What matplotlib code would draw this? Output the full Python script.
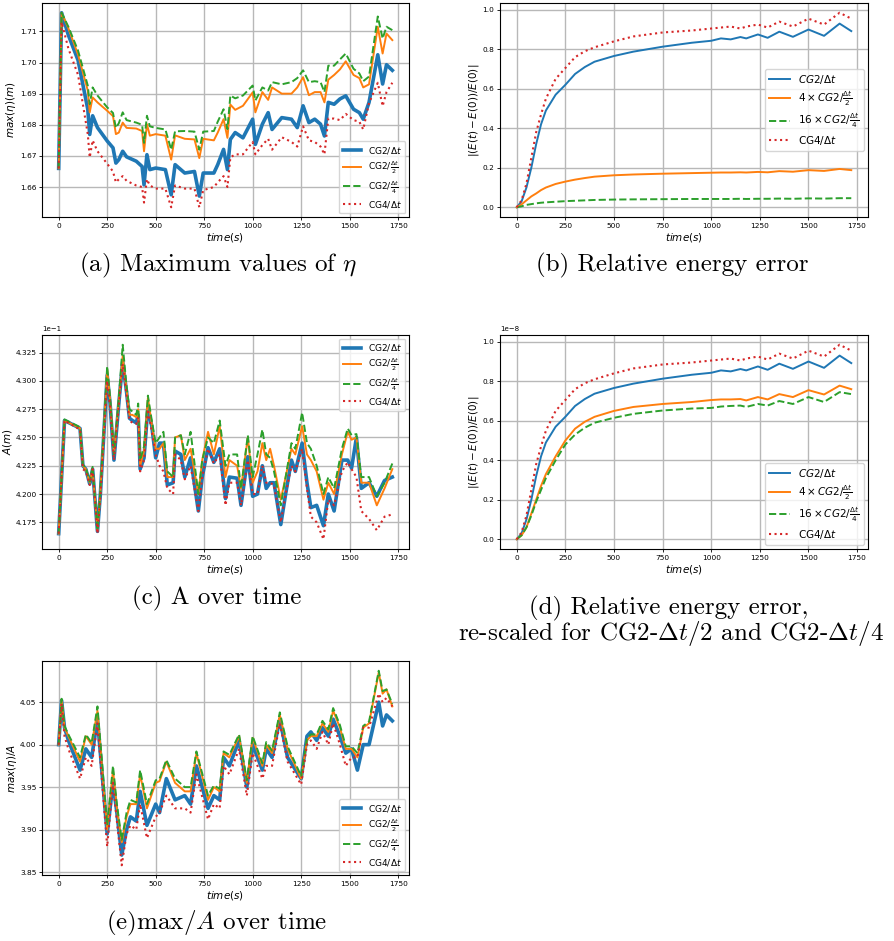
import numpy as np
import matplotlib
matplotlib.use("Agg")
import matplotlib.pyplot as plt

# ---- (a) maximum of eta over time ----
t_max = [0, 15, 50, 100, 150, 160, 175, 200, 250, 280, 295, 310, 330, 350, 400, 430, 440, 455, 470, 500,
         550, 580, 600, 650, 700, 725, 745, 800, 820, 850, 870, 885, 910, 950, 1000, 1014, 1050, 1080, 1100,
         1150, 1200, 1230, 1260, 1290, 1320, 1350, 1370, 1390, 1420, 1450, 1480, 1520, 1550, 1570, 1600,
         1645, 1670, 1690, 1720]
max_cg2 = [1.666, 1.716, 1.7088, 1.7007, 1.6850, 1.6769, 1.6829, 1.6791, 1.6748, 1.6726, 1.6677, 1.6688,
           1.6715, 1.6697, 1.6683, 1.6666, 1.6607, 1.6704, 1.6656, 1.6661, 1.6656, 1.6575, 1.6672, 1.6645,
           1.6650, 1.6571, 1.6645, 1.6645, 1.6672, 1.6721, 1.6656, 1.6753, 1.6775, 1.6758, 1.6818, 1.6737,
           1.6802, 1.6839, 1.6785, 1.6823, 1.6818, 1.6791, 1.6861, 1.6807, 1.6818, 1.6802, 1.6764, 1.6872,
           1.6866, 1.6883, 1.6893, 1.6850, 1.6839, 1.6818, 1.6872, 1.7025, 1.6931, 1.6993, 1.6975]
max_cg2_dt2 = [1.666, 1.716, 1.711, 1.7025, 1.691, 1.684, 1.6888, 1.6872, 1.6845, 1.6828, 1.677, 1.6775,
               1.6807, 1.679, 1.6788, 1.678, 1.6715, 1.6802, 1.6765, 1.677, 1.6765, 1.6688, 1.6766, 1.6755,
               1.6753, 1.6693, 1.6755, 1.675, 1.6775, 1.6818, 1.6758, 1.6865, 1.6848, 1.6861, 1.6904, 1.684,
               1.6905, 1.688, 1.692, 1.690, 1.690, 1.692, 1.6953, 1.6895, 1.6905, 1.6905, 1.6872, 1.6945,
               1.696, 1.6978, 1.7004, 1.696, 1.695, 1.692, 1.693, 1.7115, 1.7029, 1.7093, 1.7072]
max_cg2_dt4 = [1.666, 1.716, 1.7115, 1.7038, 1.6926, 1.6866, 1.692, 1.6894, 1.6856, 1.6838, 1.679, 1.6805,
               1.684, 1.6815, 1.6807, 1.680, 1.6742, 1.6829, 1.6795, 1.679, 1.6785, 1.672, 1.6779, 1.678,
               1.6778, 1.672, 1.6778, 1.678, 1.681, 1.685, 1.6786, 1.6894, 1.6885, 1.6894, 1.6926, 1.6878,
               1.692, 1.691, 1.6937, 1.693, 1.6937, 1.695, 1.6975, 1.6937, 1.694, 1.6937, 1.6905, 1.699,
               1.699, 1.701, 1.7029, 1.698, 1.6965, 1.694, 1.6955, 1.7148, 1.7077, 1.7115, 1.7104]
max_cg4 = [1.666, 1.713, 1.7045, 1.696, 1.677, 1.6695, 1.675, 1.6715, 1.6675, 1.665, 1.6615, 1.6625,
           1.6635, 1.662, 1.6605, 1.660, 1.655, 1.6625, 1.6605, 1.6595, 1.6595, 1.6535, 1.6605, 1.6595,
           1.6595, 1.6535, 1.659, 1.660, 1.6615, 1.6635, 1.660, 1.6695, 1.6705, 1.6705, 1.6745, 1.6705,
           1.6735, 1.6755, 1.672, 1.676, 1.6745, 1.673, 1.6795, 1.675, 1.6745, 1.673, 1.6705, 1.682,
           1.682, 1.6815, 1.6835, 1.6815, 1.681, 1.6785, 1.687, 1.6935, 1.686, 1.6905, 1.6935]

# ---- (b)/(d) relative energy error, in units of 1e-8 ----
t_err = [0, 25, 50, 75, 100, 125, 150, 200, 250, 300, 350, 400, 500, 600, 750, 900, 1000, 1050, 1100,
         1150, 1180, 1240, 1290, 1350, 1420, 1500, 1580, 1660, 1720]
err_cg2 = [0, 0.03, 0.1, 0.2, 0.32, 0.42, 0.49, 0.57, 0.62, 0.675, 0.71, 0.737, 0.766, 0.788, 0.813,
           0.833, 0.843, 0.855, 0.85, 0.862, 0.855, 0.875, 0.858, 0.889, 0.863, 0.9, 0.868, 0.93, 0.892]
err_cg4 = [0, 0.035, 0.12, 0.25, 0.38, 0.47, 0.55, 0.65, 0.705, 0.76, 0.79, 0.81, 0.84, 0.865, 0.885,
           0.895, 0.905, 0.91, 0.915, 0.905, 0.915, 0.925, 0.91, 0.94, 0.915, 0.955, 0.925, 0.985, 0.955]
err_cg2_dt2 = [0, 0.015, 0.035, 0.055, 0.07, 0.087, 0.1, 0.118, 0.13, 0.14, 0.148, 0.155, 0.162, 0.166,
               0.17, 0.173, 0.175, 0.176, 0.176, 0.177, 0.176, 0.179, 0.177, 0.183, 0.18, 0.188, 0.184,
               0.194, 0.188]
err_cg2_dt4 = [0, 0.005, 0.012, 0.016, 0.02, 0.023, 0.025, 0.028, 0.031, 0.033, 0.035, 0.037, 0.039, 0.04,
               0.041, 0.042, 0.042, 0.042, 0.042, 0.043, 0.042, 0.043, 0.043, 0.044, 0.043, 0.045, 0.044,
               0.046, 0.046]
scaled_cg2_dt2 = [0, 0.02, 0.06, 0.13, 0.2, 0.27, 0.33, 0.42, 0.5, 0.56, 0.595, 0.62, 0.65, 0.67, 0.685,
                  0.695, 0.705, 0.708, 0.708, 0.71, 0.703, 0.72, 0.708, 0.735, 0.72, 0.755, 0.733, 0.778,
                  0.76]
scaled_cg2_dt4 = [0, 0.02, 0.06, 0.12, 0.19, 0.25, 0.31, 0.40, 0.48, 0.53, 0.565, 0.59, 0.615, 0.635,
                  0.652, 0.662, 0.665, 0.672, 0.675, 0.677, 0.67, 0.685, 0.677, 0.70, 0.685, 0.72, 0.695,
                  0.745, 0.735]
ERR_UNIT = 1e-8

# ---- (c) amplitude A (m) ----
t_amp = [0, 30, 100, 110, 125, 140, 160, 175, 200, 215, 250, 265, 285, 310, 330, 350, 365, 380, 400, 410,
         420, 440, 460, 480, 500, 520, 540, 560, 590, 600, 630, 650, 680, 720, 740, 770, 800, 830, 860,
         880, 920, 940, 975, 1000, 1025, 1050, 1070, 1090, 1110, 1145, 1170, 1200, 1220, 1255, 1280, 1300,
         1330, 1365, 1390, 1420, 1460, 1490, 1510, 1535, 1560, 1600, 1640, 1680, 1720]
amp_cg2 = [0.4165, 0.4265, 0.4259, 0.4258, 0.4225, 0.4222, 0.4209, 0.4222, 0.4167, 0.4200, 0.4305, 0.4280,
           0.4230, 0.4280, 0.4317, 0.4290, 0.4267, 0.4265, 0.4263, 0.4270, 0.4222, 0.4232, 0.4277, 0.4260,
           0.4232, 0.4245, 0.4245, 0.4208, 0.4210, 0.4238, 0.4235, 0.4215, 0.4232, 0.4185, 0.4215, 0.4241,
           0.4228, 0.4240, 0.4196, 0.4215, 0.4214, 0.4190, 0.4233, 0.4198, 0.4200, 0.4225, 0.4205, 0.4210,
           0.4210, 0.4173, 0.4200, 0.4230, 0.4220, 0.4245, 0.4210, 0.4188, 0.4190, 0.4172, 0.4200, 0.4185,
           0.4230, 0.4230, 0.4223, 0.4250, 0.4205, 0.4210, 0.4198, 0.4212, 0.4215]
amp_cg2_dt2 = [0.4165, 0.4265, 0.4259, 0.4258, 0.4225, 0.4222, 0.4210, 0.4222, 0.4168, 0.4202, 0.4310,
               0.4283, 0.4235, 0.4283, 0.4322, 0.4292, 0.4270, 0.4270, 0.4268, 0.4275, 0.4225, 0.4238,
               0.4285, 0.4262, 0.4240, 0.4240, 0.4245, 0.4215, 0.4215, 0.4250, 0.4252, 0.4230, 0.4240,
               0.4200, 0.4230, 0.4255, 0.4235, 0.4260, 0.4215, 0.4230, 0.4225, 0.4205, 0.4250, 0.4210,
               0.4220, 0.4245, 0.4230, 0.4240, 0.4225, 0.4195, 0.4215, 0.4240, 0.4235, 0.4260, 0.4235,
               0.4230, 0.4220, 0.4195, 0.4210, 0.4200, 0.4235, 0.4255, 0.4248, 0.4250, 0.4210, 0.4210,
               0.4190, 0.4205, 0.4222]
amp_cg2_dt4 = [0.4165, 0.4266, 0.4260, 0.4259, 0.4226, 0.4223, 0.4211, 0.4224, 0.4168, 0.4203, 0.4313,
               0.4285, 0.4235, 0.4285, 0.4332, 0.4295, 0.4275, 0.4273, 0.4270, 0.4280, 0.4230, 0.4242,
               0.4287, 0.4265, 0.4245, 0.4250, 0.4255, 0.4220, 0.4215, 0.4250, 0.4252, 0.4235, 0.4255,
               0.4200, 0.4230, 0.4250, 0.4245, 0.4265, 0.4225, 0.4235, 0.4235, 0.4205, 0.4252, 0.4215,
               0.4235, 0.4257, 0.4235, 0.4232, 0.4220, 0.4190, 0.4215, 0.4245, 0.4240, 0.4272, 0.4245,
               0.4240, 0.4225, 0.4200, 0.4215, 0.4205, 0.4240, 0.4258, 0.4252, 0.4253, 0.4215, 0.4215,
               0.4198, 0.4210, 0.4227]
amp_cg4 = [0.4165, 0.4265, 0.4258, 0.4257, 0.4222, 0.4220, 0.4208, 0.4222, 0.4165, 0.4198, 0.4300, 0.4277,
           0.4230, 0.4278, 0.4315, 0.4287, 0.4265, 0.4263, 0.4262, 0.4268, 0.4220, 0.4230, 0.4275, 0.4255,
           0.4235, 0.4225, 0.4220, 0.4205, 0.4200, 0.4235, 0.4230, 0.4213, 0.4225, 0.4185, 0.4215, 0.4240,
           0.4227, 0.4235, 0.4190, 0.4210, 0.4210, 0.4190, 0.4230, 0.4200, 0.4200, 0.4225, 0.4210, 0.4210,
           0.4208, 0.4175, 0.4200, 0.4225, 0.4220, 0.4240, 0.4205, 0.4180, 0.4175, 0.4160, 0.4195, 0.4190,
           0.4220, 0.4228, 0.4222, 0.4215, 0.4185, 0.4178, 0.4168, 0.4180, 0.4182]

# ---- (e) max(eta)/A ----
t_ratio = [0, 15, 30, 50, 110, 140, 170, 200, 250, 280, 300, 325, 350, 370, 400, 420, 455, 500, 520, 555,
           600, 650, 680, 710, 770, 800, 830, 850, 880, 930, 970, 1000, 1050, 1070, 1100, 1140, 1180, 1250,
           1280, 1300, 1330, 1360, 1390, 1415, 1450, 1480, 1510, 1540, 1570, 1600, 1650, 1670, 1690, 1720]
ratio_cg2 = [4.0, 4.052, 4.02, 4.005, 3.97, 3.995, 3.985, 4.03, 3.895, 3.955, 3.92, 3.87, 3.90, 3.915,
             3.91, 3.945, 3.905, 3.93, 3.92, 3.96, 3.935, 3.94, 3.93, 3.975, 3.925, 3.94, 3.935, 3.985,
             3.975, 4.005, 3.95, 4.0, 3.97, 3.995, 3.985, 4.03, 3.985, 3.96, 4.01, 4.015, 4.005, 4.02, 4.01,
             4.03, 4.01, 3.99, 3.995, 3.97, 4.0, 4.0, 4.05, 4.022, 4.035, 4.028]
ratio_cg2_dt2 = [4.0, 4.053, 4.02, 4.01, 3.98, 4.01, 4.0, 4.04, 3.90, 3.97, 3.925, 3.885, 3.915, 3.93,
                 3.93, 3.965, 3.925, 3.955, 3.957, 3.98, 3.955, 3.945, 3.945, 3.99, 3.935, 3.95, 3.945,
                 3.99, 3.985, 4.01, 3.955, 4.008, 3.975, 4.0, 3.99, 4.035, 3.995, 3.96, 4.005, 4.01, 4.01,
                 4.025, 4.015, 4.04, 4.02, 3.995, 3.995, 3.985, 4.02, 4.025, 4.085, 4.06, 4.065, 4.045]
ratio_cg2_dt4 = [4.0, 4.054, 4.022, 4.012, 3.985, 4.012, 4.002, 4.045, 3.905, 3.975, 3.93, 3.888, 3.92,
                 3.935, 3.932, 3.97, 3.93, 3.958, 3.96, 3.982, 3.96, 3.95, 3.95, 3.992, 3.94, 3.952, 3.948,
                 3.992, 3.988, 4.012, 3.958, 4.01, 3.978, 4.003, 3.993, 4.038, 3.998, 3.963, 4.007, 4.012,
                 4.012, 4.028, 4.018, 4.043, 4.023, 3.998, 3.998, 3.99, 4.022, 4.027, 4.087, 4.063, 4.065,
                 4.048]
ratio_cg4 = [4.0, 4.048, 4.01, 3.995, 3.96, 3.985, 3.975, 4.025, 3.88, 3.955, 3.91, 3.858, 3.895, 3.905,
             3.9, 3.93, 3.89, 3.915, 3.92, 3.94, 3.925, 3.925, 3.92, 3.965, 3.912, 3.93, 3.925, 3.975,
             3.965, 3.995, 3.94, 3.99, 3.96, 3.975, 3.975, 4.025, 3.98, 3.953, 4.0, 4.005, 3.995, 4.015,
             4.0, 4.025, 4.0, 3.975, 3.985, 3.985, 4.02, 4.02, 4.06, 4.05, 4.055, 4.045]

labels_plain = ["CG2/$\\Delta t$", "CG2/$\\frac{\\Delta t}{2}$", "CG2/$\\frac{\\Delta t}{4}$", "CG4/$\\Delta t$"]
labels_err = ["$CG2/\\Delta t$", "$4 \\times CG2/\\frac{\\Delta t}{2}$",
              "$16 \\times CG2/\\frac{\\Delta t}{4}$", "CG4/$\\Delta t$"]

BLUE, ORANGE, GREEN, RED = "#1f77b4", "#ff7f0e", "#2ca02c", "#d62728"

fig = plt.figure(figsize=(8.94, 9.41), dpi=100)

W, H = 894.0, 941.0


def make_axes(left, top, right, bottom):
    return fig.add_axes([left / W, 1 - bottom / H, (right - left) / W, (bottom - top) / H])


def style(ax, ylabel):
    ax.grid(True, color="#b8b8b8", linewidth=1.0)
    ax.set_xticks([0, 250, 500, 750, 1000, 1250, 1500, 1750])
    ax.tick_params(labelsize=5.3, length=2.5, width=0.6, pad=1.5)
    ax.set_xlabel("$time(s)$", fontsize=7.5, labelpad=2)
    ax.set_ylabel(ylabel, fontsize=7.5, labelpad=1)
    ax.yaxis.get_offset_text().set_fontsize(5.0)


def four_lines(ax, t, s1, s2, s3, s4, labels, thick, legend_loc, legend_size):
    ax.plot(t, s1, color=BLUE, lw=2.6 if thick else 1.4, label=labels[0])
    ax.plot(t, s2, color=ORANGE, lw=1.4, label=labels[1])
    ax.plot(t, s3, color=GREEN, lw=1.4, ls="--", label=labels[2])
    ax.plot(t, s4, color=RED, lw=1.5, ls=":", label=labels[3])
    ax.legend(loc=legend_loc, fontsize=legend_size, handlelength=2.0, borderpad=0.4,
              labelspacing=0.35, borderaxespad=0.4)


# (a)
ax_a = make_axes(42, 3, 409, 217)
four_lines(ax_a, t_max, max_cg2, max_cg2_dt2, max_cg2_dt4, max_cg4, labels_plain, True, "lower right", 6.5)
style(ax_a, "$max(\\eta)(m)$")

# (b)
ax_b = make_axes(500, 3, 868, 217)
four_lines(ax_b, t_err, np.array(err_cg2) * ERR_UNIT, np.array(err_cg2_dt2) * ERR_UNIT,
           np.array(err_cg2_dt4) * ERR_UNIT, np.array(err_cg4) * ERR_UNIT, labels_err, False,
           "center right", 7.5)
style(ax_b, "$|(E(t)-E(0))/E(0)|$")

# (c)
ax_c = make_axes(42, 335, 409, 549)
four_lines(ax_c, t_amp, amp_cg2, amp_cg2_dt2, amp_cg2_dt4, amp_cg4, labels_plain, True, "upper right", 6.5)
ax_c.ticklabel_format(axis="y", style="sci", scilimits=(0, 0))
style(ax_c, "$A(m)$")

# (d)
ax_d = make_axes(500, 335, 868, 549)
four_lines(ax_d, t_err, np.array(err_cg2) * ERR_UNIT, np.array(scaled_cg2_dt2) * ERR_UNIT,
           np.array(scaled_cg2_dt4) * ERR_UNIT, np.array(err_cg4) * ERR_UNIT, labels_err, False,
           "lower right", 7.5)
style(ax_d, "$|(E(t)-E(0))/E(0)|$")

# (e)
ax_e = make_axes(42, 661, 409, 875)
four_lines(ax_e, t_ratio, ratio_cg2, ratio_cg2_dt2, ratio_cg2_dt4, ratio_cg4, labels_plain, True,
           "lower right", 6.5)
style(ax_e, "$max(\\eta)/A$")

# sub-figure captions
cap = dict(fontsize=18, family="cmr10", math_fontfamily="cm", ha="center", va="center")
fig.text(218 / W, 1 - 265 / H, "(a) Maximum values of $\\eta$", **cap)
fig.text(672 / W, 1 - 265 / H, "(b) Relative energy error", **cap)
fig.text(217 / W, 1 - 598 / H, "(c) A over time", **cap)
fig.text(669 / W, 1 - 608 / H, "(d) Relative energy error,", **cap)
fig.text(671 / W, 1 - 634 / H, "re-scaled for CG2-$\\Delta t/2$ and CG2-$\\Delta t/4$", **cap)
fig.text(217 / W, 1 - 923 / H, "(e)max$/A$ over time", **cap)

fig.savefig("out.png", dpi=100)
